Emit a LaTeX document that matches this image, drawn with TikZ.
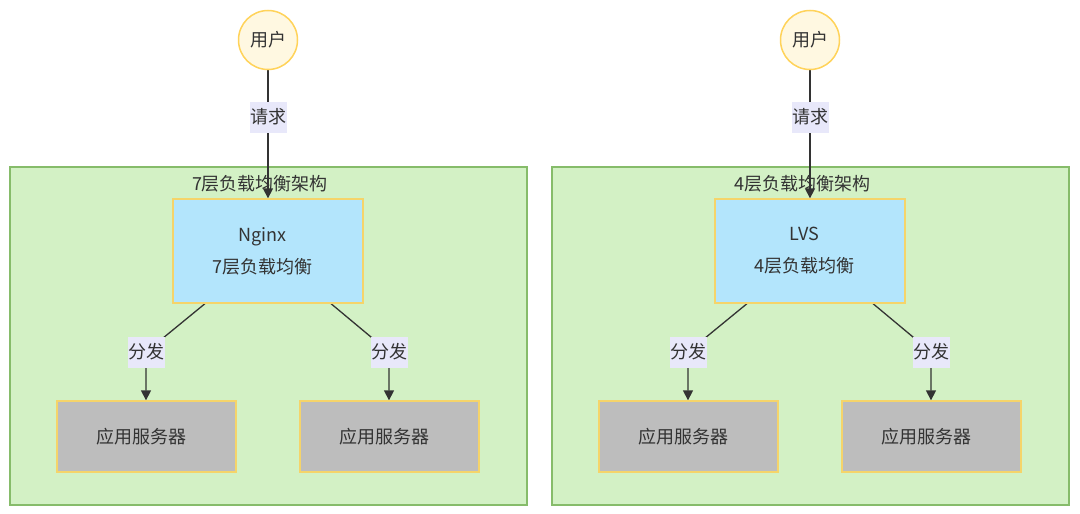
\documentclass[tikz,border=0pt]{standalone}
\usepackage{fontspec}
\setmainfont{Noto Sans CJK SC}
\usetikzlibrary{arrows.meta,calc}
\definecolor{txt}{HTML}{333333}
\definecolor{userfill}{HTML}{FFF8E1}
\definecolor{userdraw}{HTML}{FFD35A}
\definecolor{labfill}{HTML}{E8E8FA}
\definecolor{contfill}{HTML}{D3F1C5}
\definecolor{contdraw}{HTML}{86BC6A}
\definecolor{lbfill}{HTML}{B3E5FC}
\definecolor{boxdraw}{HTML}{F5D46A}
\definecolor{srvfill}{HTML}{BDBDBD}
\pgfdeclarelayer{bg}
\pgfdeclarelayer{cont}
\pgfdeclarelayer{edges}
\pgfsetlayers{bg,cont,edges,main}
\newcommand{\lpad}{\hspace*{11pt}}
\tikzset{
  basefont/.style={font=\fontsize{18}{32}\selectfont, text=txt},
  user/.style={circle, basefont, fill=userfill, draw=userdraw, line width=1.5pt, minimum size=59pt, inner sep=0pt},
  elabel/.style={rectangle, basefont, fill=labfill, minimum width=37pt, minimum height=31pt, inner sep=0pt},
  container/.style={rectangle, fill=contfill, draw=contdraw, line width=1.2pt, minimum width=517pt, minimum height=338pt, inner sep=0pt},
  ctitle/.style={basefont, inner sep=0pt},
  lbbox/.style={rectangle, basefont, align=center, fill=lbfill, draw=boxdraw, line width=1.3pt, minimum width=190pt, minimum height=104pt, inner sep=0pt},
  srvbox/.style={rectangle, basefont, fill=srvfill, draw=boxdraw, line width=1.3pt, minimum width=179pt, minimum height=71pt, inner sep=0pt},
  conn/.style={draw=txt, line width=1.3pt},
  arr/.style={conn, -{Triangle[length=10pt,width=10pt]}}
}
\begin{document}
\begin{tikzpicture}[x=1pt,y=-1pt]
\begin{pgfonlayer}{bg}
\fill[white] (0,0) rectangle (1080,514);
\end{pgfonlayer}
\useasboundingbox (0,0) rectangle (1080,514);

% ---------- left: 7 layer ----------
\begin{pgfonlayer}{cont}
\node[container] (c1) at (268.5,336) {};
\end{pgfonlayer}
\node[ctitle] (t1) at (260,184) {7层负载均衡架构};
\node[user] (u1) at (268,40) {用户};
\node[elabel] (q1) at (268,117) {请求};
\node[lbbox] (n1) at (268,251) {Nginx\lpad\\7层负载均衡\lpad};
\node[srvbox] (s1a) at (146.5,436.5) {应用服务器\lpad};
\node[srvbox] (s1b) at (389.5,436.5) {应用服务器\lpad};
\node[elabel] (f1a) at (146,352) {分发};
\node[elabel] (f1b) at (389,352) {分发};
\begin{pgfonlayer}{edges}
\draw[arr] (u1.south) -- (n1.north);
\draw[arr] ($(n1.south)+(-63,0)$) -- (f1a.center) -- (f1a.center |- s1a.north);
\draw[arr] ($(n1.south)+(63,0)$) -- (f1b.center) -- (f1b.center |- s1b.north);
\end{pgfonlayer}

% ---------- right: 4 layer ----------
\begin{pgfonlayer}{cont}
\node[container] (c2) at (810.5,336) {};
\end{pgfonlayer}
\node[ctitle] (t2) at (802,184) {4层负载均衡架构};
\node[user] (u2) at (810,40) {用户};
\node[elabel] (q2) at (810,117) {请求};
\node[lbbox] (n2) at (810,251) {LVS\lpad\\4层负载均衡\lpad};
\node[srvbox] (s2a) at (688.5,436.5) {应用服务器\lpad};
\node[srvbox] (s2b) at (931.5,436.5) {应用服务器\lpad};
\node[elabel] (f2a) at (688,352) {分发};
\node[elabel] (f2b) at (931,352) {分发};
\begin{pgfonlayer}{edges}
\draw[arr] (u2.south) -- (n2.north);
\draw[arr] ($(n2.south)+(-63,0)$) -- (f2a.center) -- (f2a.center |- s2a.north);
\draw[arr] ($(n2.south)+(63,0)$) -- (f2b.center) -- (f2b.center |- s2b.north);
\end{pgfonlayer}
\end{tikzpicture}
\end{document}
